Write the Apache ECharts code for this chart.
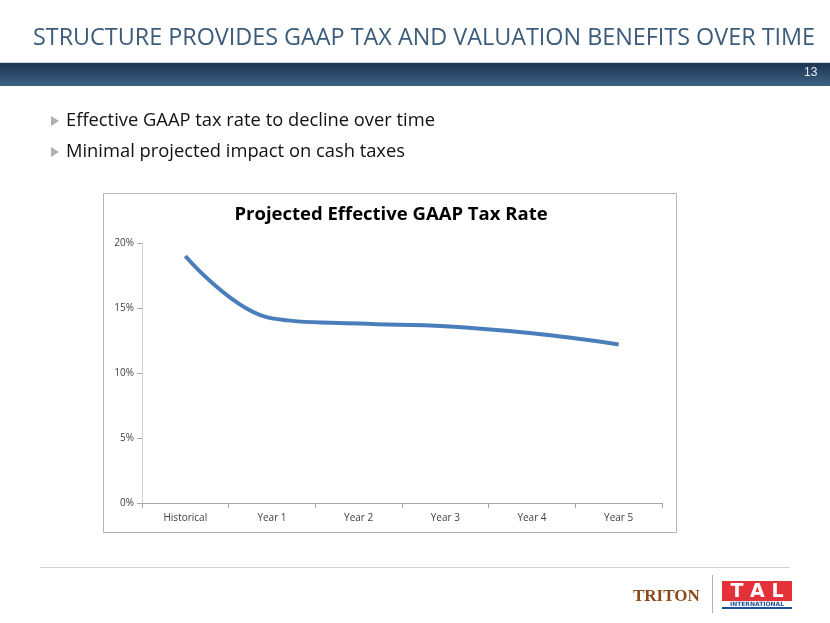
<!DOCTYPE html>
<html><head><meta charset="utf-8">
<script src="https://cdn.jsdelivr.net/npm/echarts@6/dist/echarts.min.js"></script>
<style>html,body{margin:0;padding:0;background:#fff}#c{width:830px;height:623px}</style>
</head><body><div id="c"></div>
<script>
const categories = ['Historical','Year 1','Year 2','Year 3','Year 4','Year 5'];
const taxRate = [19.0, 14.2, 13.8, 13.6, 13.05, 12.2];
const yTicks = [0, 5, 10, 15, 20];

const ctx = document.createElement('canvas').getContext('2d');
function fitScale(text, font, width){ ctx.font = font; return width / ctx.measureText(text).width; }

const chart = echarts.init(document.getElementById('c'), null, {renderer:'canvas'});
const F = '"Open Sans", "Noto Sans", sans-serif';
const titleTxt = 'STRUCTURE PROVIDES GAAP TAX AND VALUATION BENEFITS OVER TIME';
const titleFont = '24px "Open Sans", sans-serif';
const b1 = 'Effective GAAP tax rate to decline over time';
const b2 = 'Minimal projected impact on cash taxes';
const bFont = '19px "Open Sans", sans-serif';
const bScale = fitScale(b1, bFont, 369);

chart.setOption({
  animation:false,
  grid:{left:142, right:168, top:243, bottom:120},
  xAxis:{type:'category', data:categories, boundaryGap:true,
    axisLine:{lineStyle:{color:'#a6a6a6'}},
    axisTick:{show:true, length:5, lineStyle:{color:'#a6a6a6'}},
    axisLabel:{color:'#404040', fontSize:10, fontFamily:F, margin:10}},
  yAxis:{type:'value', min:0, max:20, interval:5,
    axisLine:{show:true, lineStyle:{color:'#d0d0d0'}},
    axisTick:{show:true, length:5, lineStyle:{color:'#a6a6a6'}},
    splitLine:{show:false},
    axisLabel:{color:'#404040', fontSize:10, fontFamily:F, margin:8,
      formatter:v=> yTicks.includes(v) ? v+'%' : ''}},
  series:[{type:'line', data:taxRate, smooth:0.4, symbol:'none',
    lineStyle:{width:4, color:'#4a7ebb'}}],
  graphic:[
    {type:'text', x:33, y:38, scaleX:fitScale(titleTxt, titleFont, 782), style:{text:titleTxt,
      fill:'#3b5b7b', verticalAlign:'middle', font:titleFont}},
    {type:'rect', shape:{x:0,y:62,width:830,height:1}, style:{fill:'#c9d3dd'}},
    {type:'rect', shape:{x:0,y:63,width:830,height:23}, style:{fill:new echarts.graphic.LinearGradient(0,0,0,1,[{offset:0,color:'#1d3350'},{offset:1,color:'#3e6385'}])}},
    {type:'text', left:804, top:67, style:{text:'13', fill:'#e8eef4', font:'12px "Liberation Sans Narrow", sans-serif'}},
    {type:'polygon', shape:{points:[[51,116],[51,126],[59,121]]}, style:{fill:'#b0b0b0'}},
    {type:'polygon', shape:{points:[[51,147],[51,157],[59,152]]}, style:{fill:'#b0b0b0'}},
    {type:'text', x:66, y:121, scaleX:bScale, style:{text:b1, fill:'#111', verticalAlign:'middle', font:bFont}},
    {type:'text', x:66, y:152, scaleX:bScale, style:{text:b2, fill:'#111', verticalAlign:'middle', font:bFont}},
    {type:'rect', shape:{x:103.5,y:193.5,width:573,height:339}, style:{fill:'none', stroke:'#b5b5b5', lineWidth:1}, z:-1},
    {type:'text', x:391, y:215, style:{text:'Projected Effective GAAP Tax Rate', fill:'#000', align:'center', verticalAlign:'middle', font:'bold 18.5px "Open Sans", sans-serif'}},
    {type:'rect', shape:{x:40,y:567,width:750,height:1}, style:{fill:'#d0d0d0'}},
    {type:'text', left:633, top:588, style:{text:'TRITON', fill:'#8b4a1e', font:'bold 17px "Liberation Serif", serif'}},
    {type:'rect', shape:{x:712,y:575,width:1,height:38}, style:{fill:'#b0b0b0'}},
    {type:'rect', shape:{x:722,y:581,width:70,height:20}, style:{fill:'#e5313a'}},
    {type:'text', x:757, y:592, style:{text:'T A L', fill:'#fff', align:'center', verticalAlign:'middle', font:'bold 19px "DejaVu Sans", sans-serif'}},
    {type:'text', x:757, y:604, style:{text:'INTERNATIONAL', fill:'#1d4e9a', align:'center', verticalAlign:'middle', font:'bold 6px "DejaVu Sans", sans-serif'}},
    {type:'rect', shape:{x:722,y:607,width:70,height:2}, style:{fill:'#1d4e9a'}}
  ]
});
</script></body></html>
